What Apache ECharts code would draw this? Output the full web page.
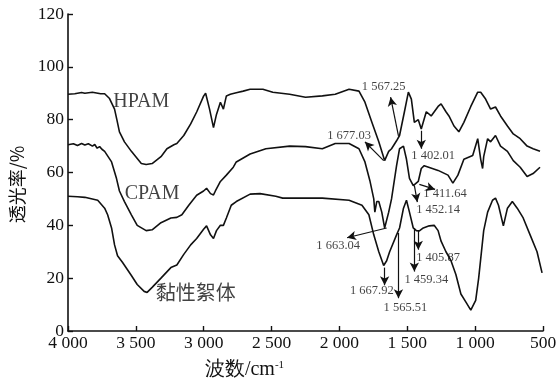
<!DOCTYPE html>
<html><head><meta charset="utf-8">
<script src="https://cdn.jsdelivr.net/npm/echarts@6/dist/echarts.min.js"></script>
<style>html,body{margin:0;padding:0;background:#fff}#c{width:560px;height:385px}</style>
</head><body><div id="c"></div>
<script>
// ---- data (wavenumber cm^-1, transmittance %) ----
var hpamWn = [4000,3950,3900,3876,3820,3760,3730,3694,3657,3640,3621,3584,3533,3460,3424,3380,3315,3271,3220,3198,3147,3096,3052,3001,2986,2957,2928,2906,2877,2855,2833,2804,2760,2709,2658,2564,2491,2367,2250,2126,2031,1929,1856,1812,1761,1710,1667,1637,1616,1579,1557,1521,1492,1470,1448,1419,1397,1360,1324,1273,1251,1215,1193,1156,1120,1083,1032,981,959,923,886,850,813,762,719,668,617,573,522];
var hpamT  = [89.6,89.8,90.3,90.0,90.4,89.8,89.8,88.0,84.0,80.0,75.4,71.6,68.0,63.4,63.0,63.4,66.0,69.0,70.5,71.0,74.0,78.4,82.9,88.9,90.0,84.0,77.0,82.0,86.6,84.0,89.0,89.6,90.2,90.8,91.5,91.5,90.4,89.6,88.5,89.0,89.6,91.5,90.8,86.6,79.0,71.6,64.5,68.0,69.0,72.0,74.0,83.0,90.4,87.8,79.0,80.0,76.5,83.0,81.4,85.0,86.0,83.0,81.4,77.6,75.4,79.0,85.0,90.4,90.4,87.8,84.0,84.8,81.4,77.6,74.6,72.8,70.0,69.0,68.0];

var cpamWn = [4000,3960,3930,3900,3876,3850,3820,3803,3785,3767,3750,3730,3679,3643,3621,3584,3533,3490,3424,3380,3315,3242,3198,3161,3110,3052,3001,2979,2950,2928,2914,2877,2833,2782,2760,2658,2542,2367,2250,2126,2031,1929,1856,1812,1776,1747,1739,1725,1710,1688,1667,1637,1616,1579,1557,1528,1506,1484,1456,1419,1397,1375,1273,1200,1164,1127,1083,1018,981,959,945,937,908,886,850,813,762,719,668,617,573,522];
var cpamT  = [70.5,70.9,70.2,71.0,70.4,70.9,70.0,70.6,69.2,69.8,68.8,68.0,64.0,57.8,53.0,49.0,44.0,40.0,38.0,38.3,41.0,42.8,43.0,44.0,47.6,51.4,53.0,54.0,52.0,51.5,53.0,56.6,59.0,62.0,64.0,67.0,69.0,70.0,69.8,69.0,71.0,71.0,69.0,64.0,57.0,50.0,45.0,49.0,49.0,45.0,39.0,45.0,50.0,62.6,69.0,70.0,65.0,57.8,55.0,56.6,61.5,62.6,60.8,59.0,56.0,59.0,65.0,66.4,72.8,65.0,61.5,66.0,72.8,71.6,74.0,70.0,68.0,64.5,62.0,58.5,59.6,62.0];

var flocWn = [4000,3930,3876,3781,3730,3708,3679,3657,3635,3599,3533,3490,3439,3417,3380,3315,3242,3198,3147,3096,3052,3001,2979,2950,2928,2906,2877,2855,2833,2797,2760,2658,2585,2469,2418,2272,2126,1929,1834,1783,1747,1710,1674,1652,1630,1579,1557,1528,1506,1484,1456,1433,1411,1382,1338,1302,1273,1251,1215,1178,1142,1105,1069,1032,996,974,937,908,872,850,828,792,762,726,690,646,595,544,507];
var flocT  = [51.0,50.8,50.6,49.5,46.5,44.0,39.0,32.6,28.5,26.0,21.0,17.6,15.0,14.6,16.5,20.0,24.0,25.0,29.0,32.6,35.0,38.5,39.8,36.4,35.0,38.0,40.0,40.0,42.8,47.6,49.0,51.8,52.0,51.0,50.3,50.3,50.3,49.5,47.6,44.0,36.4,30.0,24.8,26.6,30.0,36.4,39.0,46.5,49.5,45.0,39.0,38.0,37.9,39.0,39.8,40.0,38.0,34.0,30.0,26.6,21.4,14.0,11.0,7.9,11.6,20.0,38.0,45.0,49.5,50.3,47.6,39.8,46.5,49.0,46.5,42.8,36.4,30.0,22.0];

var xTicks = [4000,3500,3000,2500,2000,1500,1000,500];
var yTicks = [0,20,40,60,80,100,120];

var seriesNames = ['HPAM','CPAM','黏性絮体'];
var seriesNameWn = [3460,3380,3059];
var seriesNameT  = [86.6,52.1,14.6];

var peakLabels = ['1 567.25','1 677.03','1 402.01','1 411.64','1 452.14','1 663.04','1 667.92','1 565.51','1 459.34','1 405.87'];
var peakTextWn = [1674,1929,1309,1222,1273,2009,1761,1514,1360,1273];
var peakTextT  = [92.3,73.9,66.4,51.8,45.8,32.3,15.4,9.0,19.5,27.8];
var arrowFromWn = [1565,1674,1397,1411,1448,1652,1667,1565,1448,1419];
var arrowFromT  = [73.9,64.5,75.8,55.5,55.1,39.0,24.0,37.1,39.0,37.9];
var arrowToWn   = [1623,1812,1397,1295,1426,1944,1667,1565,1448,1419];
var arrowToT    = [88.5,71.6,69.0,53.6,48.8,35.3,17.3,12.4,22.5,30.8];

// ---- build ----
function zip(a,b){return a.map(function(v,i){return [v,b[i]];});}
var FONT = 'Liberation Serif';
var INK = '#111';
function fmtNum(v){ v = Math.round(v); return v >= 1000 ? Math.floor(v/1000) + ' ' + String(v%1000).padStart(3,'0') : String(v); }

var chart = echarts.init(document.getElementById('c'), null, {renderer:'canvas'});
var lineBase = {type:'line', showSymbol:false, symbol:'none', smooth:false, animation:false,
  lineStyle:{color:INK, width:1.6}, itemStyle:{color:INK}};

var arrows = peakLabels.map(function(_,i){
  return [{coord:[arrowFromWn[i],arrowFromT[i]]},{coord:[arrowToWn[i],arrowToT[i]]}];
});

var textPts = [];
seriesNames.forEach(function(n,i){ textPts.push({value:[seriesNameWn[i],seriesNameT[i]], name:n, fs:20}); });
peakLabels.forEach(function(n,i){ textPts.push({value:[peakTextWn[i],peakTextT[i]], name:n, fs:12.5}); });

chart.setOption({
  animation:false,
  backgroundColor:'#fff',
  grid:{left:63, right:17, top:14, bottom:51, containLabel:false},
  xAxis:{type:'value', inverse:true, min:500, max:4000, interval:500,
    name:'波数/cm{sup|-1}', nameLocation:'middle', nameGap:29,
    nameTextStyle:{fontFamily:FONT, fontSize:20, color:INK, padding:[0,122,0,0],
      rich:{sup:{fontFamily:FONT, fontSize:11, color:INK, verticalAlign:'top', padding:[0,0,9,0]}}},
    axisLine:{show:true, lineStyle:{color:INK, width:1.6}},
    axisTick:{show:true, inside:true, length:5, lineStyle:{color:INK, width:1.4}},
    axisLabel:{fontFamily:FONT, fontSize:17.5, color:INK, margin:3, formatter:function(v){return fmtNum(v);}},
    splitLine:{show:false}},
  yAxis:{type:'value', min:0, max:120, interval:20,
    name:'透光率/%', nameLocation:'middle', nameGap:42, nameRotate:90,
    nameTextStyle:{fontFamily:'Noto Sans CJK SC', fontSize:18, color:INK, padding:[0,24,0,0]},
    axisLine:{show:true, lineStyle:{color:INK, width:1.6}},
    axisTick:{show:true, inside:true, length:5, lineStyle:{color:INK, width:1.4}},
    axisLabel:{fontFamily:FONT, fontSize:17.5, color:INK, margin:4, formatter:function(v){return fmtNum(v);}},
    splitLine:{show:false}},
  series:[
    Object.assign({}, lineBase, {name:'HPAM', data:zip(hpamWn,hpamT)}),
    Object.assign({}, lineBase, {name:'CPAM', data:zip(cpamWn,cpamT)}),
    Object.assign({}, lineBase, {name:'黏性絮体', data:zip(flocWn,flocT),
      markLine:{silent:true, symbol:['none','arrow'], symbolSize:[7,9], animation:false,
        lineStyle:{color:INK, width:1.2, type:'solid'}, label:{show:false}, emphasis:{disabled:true},
        data:arrows}}),
    {type:'scatter', symbolSize:1, itemStyle:{color:'rgba(0,0,0,0)'}, animation:false, silent:true,
      data:textPts.map(function(p){return {value:p.value, name:p.name,
        label:{show:true, position:'inside', formatter:p.name, fontSize:p.fs,
          fontFamily: /[\u4e00-\u9fff]/.test(p.name) ? 'Noto Sans CJK SC' : FONT, color:INK}};})}
  ]
});
</script></body></html>
